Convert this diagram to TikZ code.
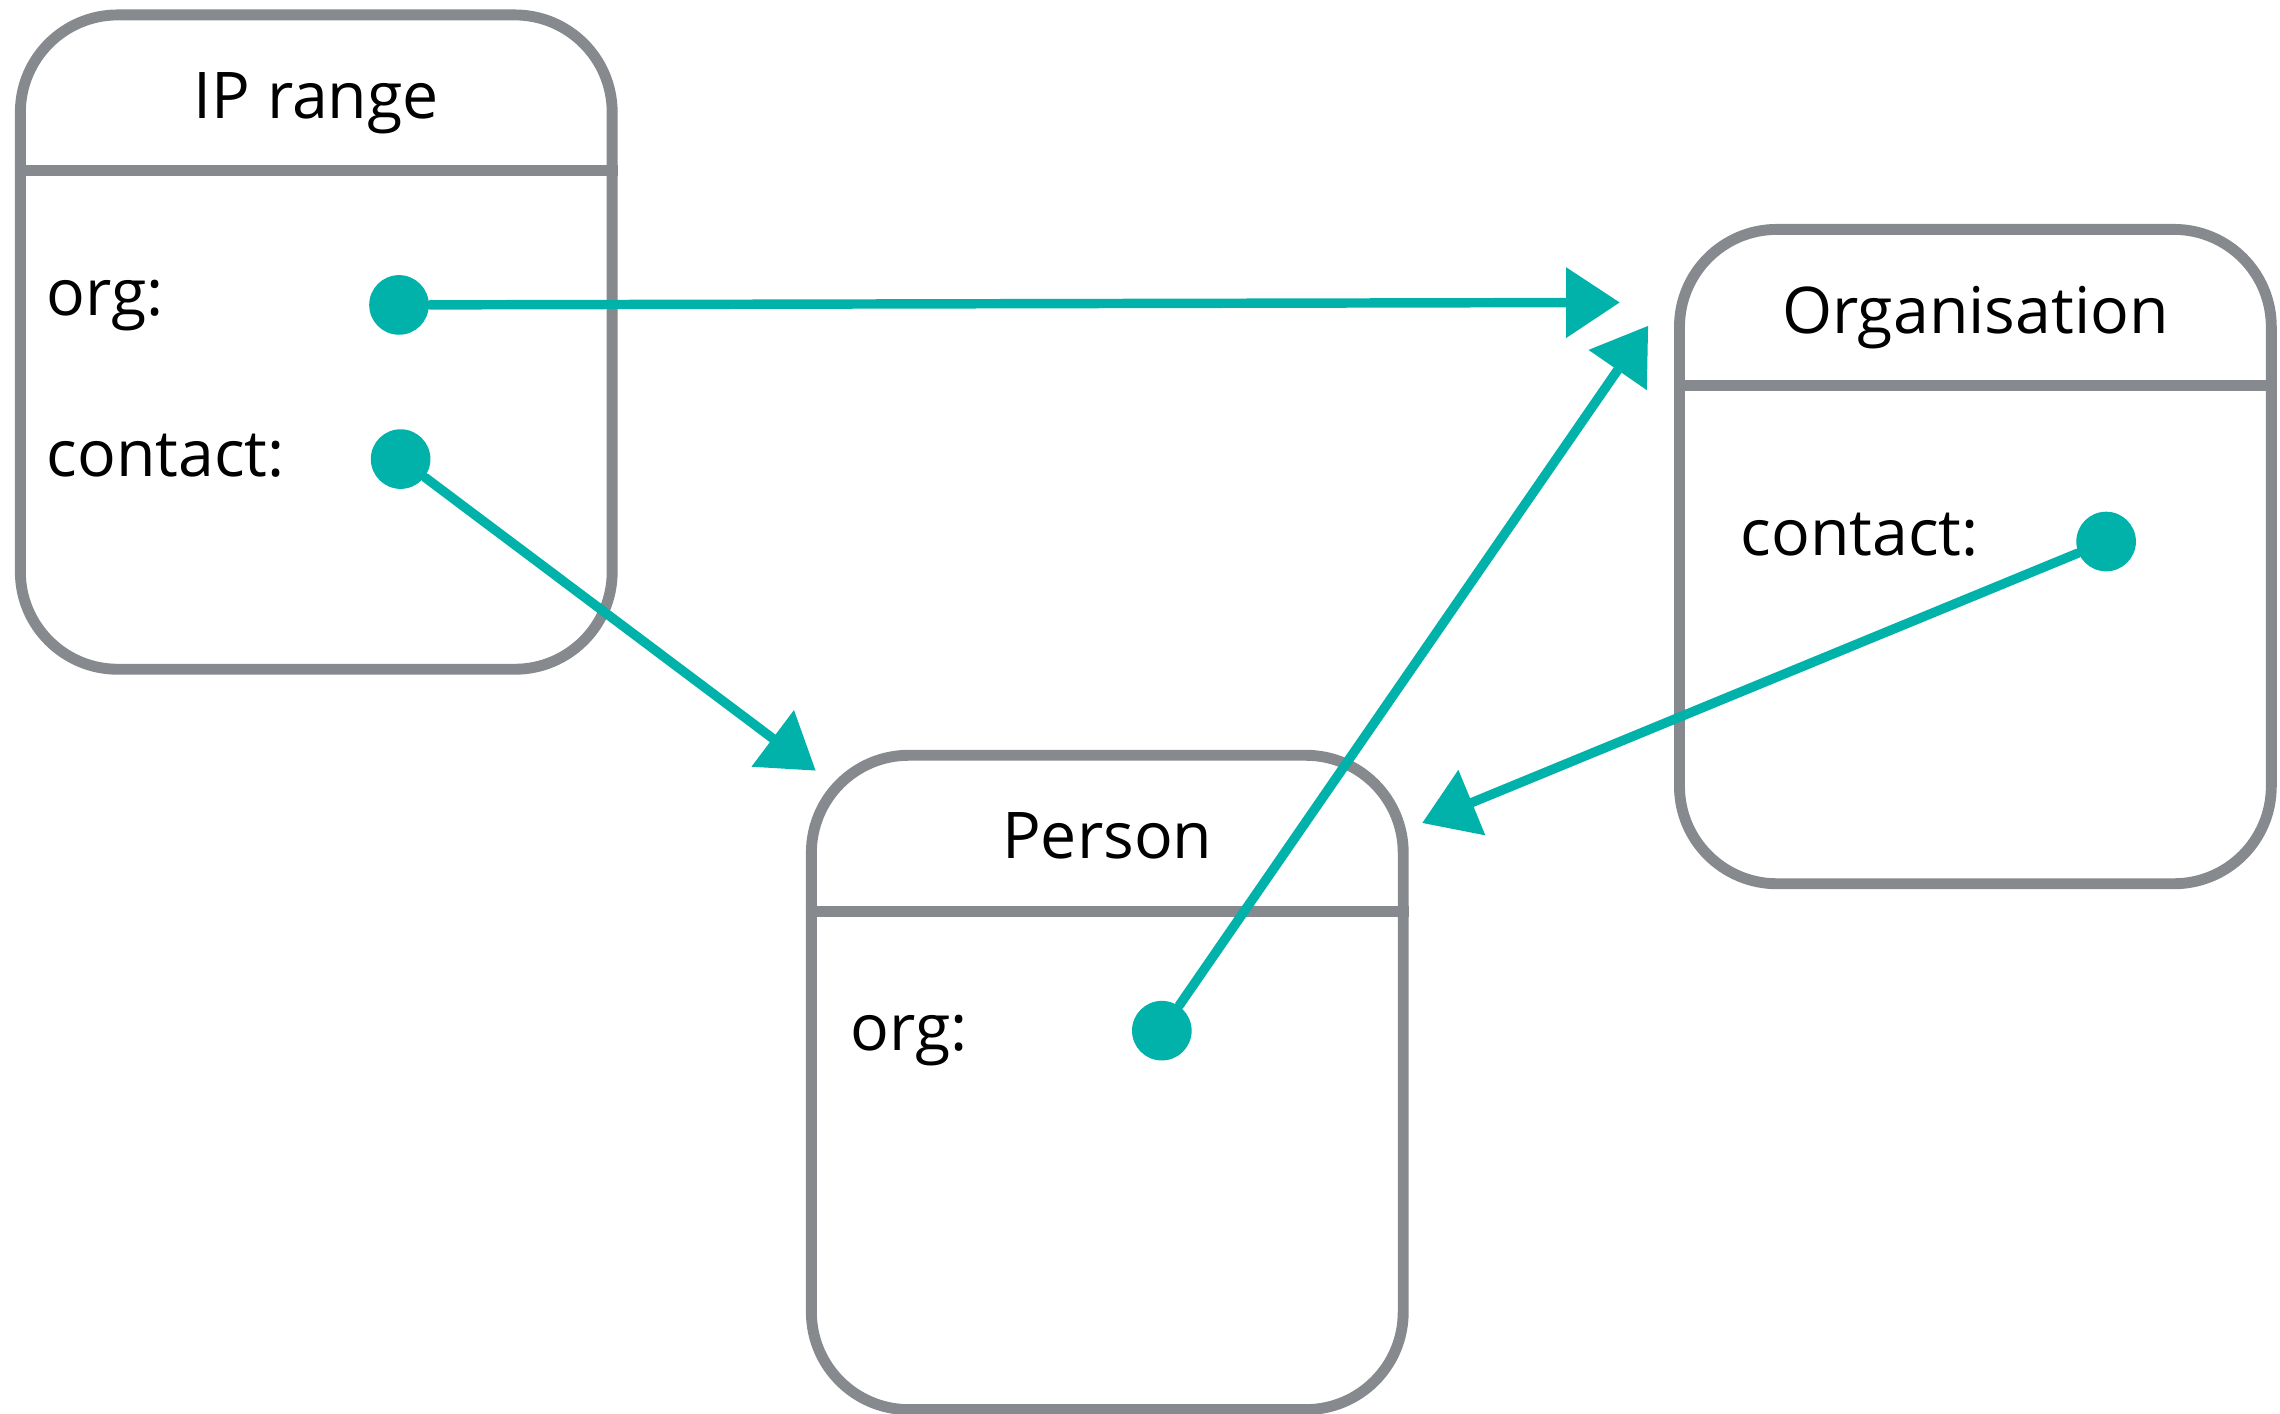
\documentclass[tikz,border=0pt]{standalone}
\usepackage{fontspec}
\setmainfont{Open Sans}
\usetikzlibrary{arrows.meta}
\definecolor{boxgray}{RGB}{134,137,141}
\definecolor{linkteal}{RGB}{0,178,169}
\tikzset{
  box/.style={draw=boxgray, line width=0.075cm, rounded corners=0.67cm,
    minimum width=4.07cm, minimum height=4.5cm, inner sep=0pt},
  boxline/.style={draw=boxgray, line width=0.075cm},
  title/.style={anchor=base, inner sep=0pt, font=\fontsize{12.6pt}{15pt}\selectfont},
  field/.style={anchor=base west, inner sep=0pt, font=\fontsize{12.6pt}{15pt}\selectfont},
  dot/.style={circle, fill=linkteal, inner sep=0pt, minimum size=0.41cm},
  link/.style={draw=linkteal, line width=0.065cm, line cap=round,
    -{Triangle[length=0.37cm, width=0.47cm]}}
}
\begin{document}
\begin{tikzpicture}[line join=round, x=1cm, y=1cm]
  \useasboundingbox (0,0) rectangle (15.68,-9.72);

  % boxes
  \node[box] (ip) at (2.175,-2.3525) {};
  \node[box] (org) at (13.585,-3.8275) {};
  \node[box] (person) at (7.615,-7.444) {};

  \foreach \b in {ip, org, person}
    \draw[boxline] ([yshift=-1.11cm]\b.north west) -- ([yshift=-1.11cm]\b.north east);

  \node[title] (iptitle) at ([yshift=-0.75cm]ip.north) {IP range};
  \node[title] (orgtitle) at ([yshift=-0.75cm]org.north) {Organisation};
  \node[title] (persontitle) at ([yshift=-0.75cm]person.north) {Person};

  % fields
  \node[field] (iporg) at ([xshift=0.21cm, yshift=-2.105cm]ip.north west) {org:};
  \node[field] (ipcontact) at ([xshift=0.21cm, yshift=-3.21cm]ip.north west) {contact:};
  \node[field] (orgcontact) at ([xshift=0.45cm, yshift=-2.28cm]org.north west) {contact:};
  \node[field] (personorg) at ([xshift=0.30cm, yshift=-2.07cm]person.north west) {org:};

  \node[dot] (iporgdot) at (2.744,-2.097) {};
  \node[dot] (ipcontactdot) at (2.755,-3.157) {};
  \node[dot] (orgcontactdot) at (14.484,-3.724) {};
  \node[dot] (personorgdot) at (7.99,-7.088) {};

  % arrow ends
  \coordinate (tiporgA) at (11.14,-2.08);
  \coordinate (tiporgB) at (11.335,-2.24);
  \coordinate (tippersonA) at (5.61,-5.30);
  \coordinate (tippersonB) at (9.78,-5.66);

  \draw[link] (iporgdot) -- (tiporgA);
  \draw[link] (ipcontactdot) -- (tippersonA);
  \draw[link] (personorgdot) -- (tiporgB);
  \draw[link] (orgcontactdot) -- (tippersonB);

\end{tikzpicture}
\end{document}
